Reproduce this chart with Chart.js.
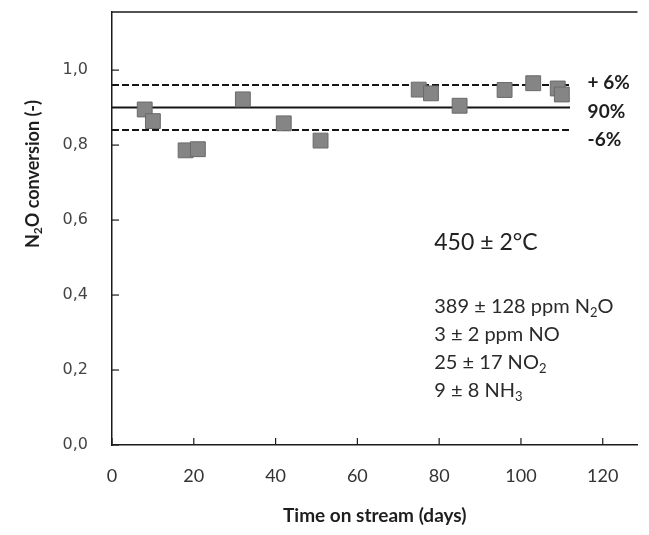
<!DOCTYPE html>
<html><head><meta charset="utf-8">
<script src="https://cdn.jsdelivr.net/npm/chart.js@4/dist/chart.umd.min.js"></script>
<style>html,body{margin:0;padding:0;background:#fff}#wrap{width:649px;height:535px;position:relative}</style>
</head><body><div id="wrap"><canvas id="c" width="649" height="535"></canvas></div>
<script>
// ---- data ----
const days = [8, 10, 18, 21, 32, 42, 51, 75, 78, 85, 96, 103, 109, 110];
const conversion = [0.895, 0.864, 0.786, 0.789, 0.922, 0.858, 0.812, 0.948, 0.938, 0.905, 0.947, 0.965, 0.951, 0.935];
const bandX = [0, 112];
const upperBand = [0.96, 0.96];
const targetLine = [0.90, 0.90];
const lowerBand = [0.84, 0.84];
const xTicks = [0, 20, 40, 60, 80, 100, 120];
const yTicks = [0, 0.2, 0.4, 0.6, 0.8, 1.0];
const bandLabels = ['+ 6%', '90%', '-6%'];
const bandLabelY = [0.965, 0.888, 0.813];
const bandLabelX = 116.3;
const tempLabel = '450 ± 2°C';
const tempPos = [78.8, 0.541];
const conditionLines = ['389 ± 128 ppm N_2O', '3 ± 2 ppm NO', '25 ± 17 NO_2', '9 ± 8 NH_3'];
const conditionPos = [78.8, 0.368];
const xTitle = 'Time on stream (days)';
const yTitle = 'N_2O conversion (-)';

function pts(xs, ys) { return xs.map((x, i) => ({x: x, y: ys[i]})); }

function drawRich(ctx, str, x, y, size, weight, family, align, color) {
  const parts = [];
  for (let i = 0; i < str.length; i++) {
    if (str[i] === '_') { parts.push({t: str[i + 1], sub: true}); i++; }
    else if (parts.length && !parts[parts.length - 1].sub) parts[parts.length - 1].t += str[i];
    else parts.push({t: str[i], sub: false});
  }
  const subSize = Math.round(size * 0.65);
  const fontOf = p => weight + ' ' + (p.sub ? subSize : size) + 'px ' + family;
  let total = 0;
  parts.forEach(p => { ctx.font = fontOf(p); p.w = ctx.measureText(p.t).width; total += p.w; });
  let cx = align === 'center' ? x - total / 2 : (align === 'right' ? x - total : x);
  ctx.fillStyle = color;
  ctx.textBaseline = 'middle';
  ctx.textAlign = 'left';
  parts.forEach(p => {
    ctx.font = fontOf(p);
    ctx.fillText(p.t, cx, p.sub ? y + size * 0.28 : y);
    cx += p.w;
  });
}

const decor = {
  id: 'decor',
  afterDraw(chart) {
    const ctx = chart.ctx, a = chart.chartArea;
    const xs = chart.scales.x, ys = chart.scales.y;
    ctx.save();
    // top frame line
    ctx.strokeStyle = '#1a1a1a'; ctx.lineWidth = 1.5;
    ctx.beginPath(); ctx.moveTo(a.left, a.top); ctx.lineTo(a.right, a.top); ctx.stroke();
    // inward tick marks
    ctx.lineWidth = 1.2;
    yTicks.forEach(v => { const py = ys.getPixelForValue(v); ctx.beginPath(); ctx.moveTo(a.left, py); ctx.lineTo(a.left + 7, py); ctx.stroke(); });
    xTicks.forEach(v => { const px = xs.getPixelForValue(v); ctx.beginPath(); ctx.moveTo(px, a.bottom); ctx.lineTo(px, a.bottom - 7); ctx.stroke(); });
    // band labels
    bandLabels.forEach((t, i) => drawRich(ctx, t, xs.getPixelForValue(bandLabelX), ys.getPixelForValue(bandLabelY[i]), 19, 'bold', 'Lato', 'left', '#1e1e1e'));
    // conditions
    drawRich(ctx, tempLabel, xs.getPixelForValue(tempPos[0]), ys.getPixelForValue(tempPos[1]), 23, 'normal', 'Lato', 'left', '#222');
    const y0 = ys.getPixelForValue(conditionPos[1]);
    conditionLines.forEach((t, i) => drawRich(ctx, t, xs.getPixelForValue(conditionPos[0]), y0 + i * 28, 20, 'normal', 'Lato', 'left', '#2a2a2a'));
    // axis titles
    drawRich(ctx, xTitle, (a.left + a.right) / 2, 516, 19, 'bold', 'Lato', 'center', '#1e1e1e');
    ctx.translate(33, 174); ctx.rotate(-Math.PI / 2);
    drawRich(ctx, yTitle, 0, 0, 18, 'bold', 'Lato', 'center', '#1e1e1e');
    ctx.restore();
  }
};

const lineStyle = {type: 'line', borderColor: '#151515', borderWidth: 2, pointRadius: 0, fill: false, order: 2};
function noPad(s) { s.paddingTop = 0; s.paddingBottom = 0; s.paddingLeft = 0; s.paddingRight = 0; }

new Chart(document.getElementById('c'), {
  type: 'scatter',
  data: {
    datasets: [
      {label: 'N2O conversion', data: pts(days, conversion), pointStyle: 'rect', pointRadius: 10.5,
       backgroundColor: '#858585', borderColor: '#6a6a6a', borderWidth: 1, order: 0},
      Object.assign({label: '+6%', data: pts(bandX, upperBand), borderDash: [7, 3]}, lineStyle),
      Object.assign({label: '90%', data: pts(bandX, targetLine)}, lineStyle),
      Object.assign({label: '-6%', data: pts(bandX, lowerBand), borderDash: [7, 3]}, lineStyle)
    ]
  },
  options: {
    responsive: false, animation: false,
    layout: {padding: {top: 12, right: 1, left: 0, bottom: 0}},
    plugins: {legend: {display: false}, tooltip: {enabled: false}},
    scales: {
      x: {
        type: 'linear', min: 0, max: 128.5,
        afterFit: s => { s.height = 90; noPad(s); },
        afterBuildTicks: s => { s.ticks = xTicks.map(v => ({value: v})); },
        grid: {display: true, drawOnChartArea: false, drawTicks: false},
        border: {display: true, color: '#1a1a1a', width: 1.5},
        ticks: {padding: 20, color: '#333', font: {family: 'Lato', size: 18}, callback: v => String(v)}
      },
      y: {
        type: 'linear', min: 0, max: 1.155,
        afterFit: s => { s.width = 112; noPad(s); },
        afterBuildTicks: s => { s.ticks = yTicks.map(v => ({value: v})); },
        grid: {display: true, drawOnChartArea: false, drawTicks: false},
        border: {display: true, color: '#1a1a1a', width: 1.5},
        ticks: {padding: 24, color: '#444', font: {family: 'DejaVu Sans', size: 16}, callback: v => v.toFixed(1).replace('.', ',')}
      }
    }
  },
  plugins: [decor]
});
</script>
</body></html>
